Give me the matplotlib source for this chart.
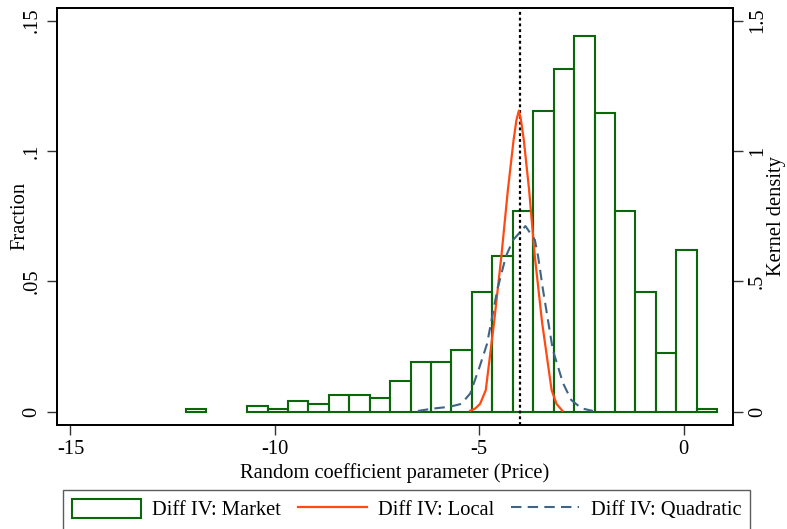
import matplotlib.pyplot as plt
import numpy as np
from matplotlib.patches import Patch
from matplotlib.lines import Line2D

plt.rcParams['font.family'] = ['Liberation Serif', 'DejaVu Serif']

# histogram (fraction), bins of width 0.5 starting at -12.18
bin_start = -12.18
bin_width = 0.5
fractions = [0.0012, 0.0, 0.0, 0.0022, 0.0010, 0.0041, 0.0031, 0.0064, 0.0064, 0.0054,
             0.0117, 0.0191, 0.0191, 0.0235, 0.0460, 0.0598, 0.0769, 0.1154, 0.1314, 0.1440,
             0.1144, 0.0769, 0.0460, 0.0224, 0.0620, 0.0011]

# kernel density, Diff IV: Local
local_x = [-5.22, -5.10, -4.98, -4.84, -4.64, -4.46, -4.30, -4.16, -4.09, -4.03,
           -3.98, -3.91, -3.78, -3.64, -3.46, -3.23, -3.11, -2.97]
local_y = [0.004, 0.012, 0.030, 0.083, 0.339, 0.595, 0.850, 1.042, 1.119, 1.155,
           1.119, 1.042, 0.850, 0.595, 0.339, 0.083, 0.030, 0.004]

# kernel density, Diff IV: Quadratic
quad_x = [-6.50, -6.13, -5.72, -5.44, -5.22, -4.99, -4.81, -4.56, -4.35, -4.17,
          -3.87, -3.64, -3.56, -3.44, -3.20, -2.95, -2.75, -2.50, -2.22]
quad_y = [0.003, 0.012, 0.019, 0.030, 0.070, 0.173, 0.260, 0.467, 0.595, 0.659,
          0.712, 0.659, 0.595, 0.467, 0.237, 0.109, 0.045, 0.013, 0.003]

true_value = -4.0

green = '#0a670a'
orange = '#ff4a12'
blue = '#3f6585'
fs = 14.8

fig = plt.figure(figsize=(7.87, 5.29), dpi=100)
ax = fig.add_axes([0.0724, 0.1966, 0.8586, 0.7886])
ax2 = ax.twinx()

edges = bin_start + bin_width * np.arange(len(fractions))
keep = [i for i, f in enumerate(fractions) if f > 0]
ax.bar(edges[keep], np.array(fractions)[keep], width=bin_width, align='edge',
       fill=False, edgecolor=green, linewidth=1.5, zorder=2)

ax2.plot(local_x, local_y, color=orange, linewidth=1.6, zorder=3)
ax2.plot(quad_x, quad_y, color=blue, linewidth=1.5, dashes=(5, 3), zorder=3)
ax.axvline(true_value, color='black', linewidth=1.6, dashes=(1.3, 1.3), zorder=4)

ax.set_xlim(-15.33, 1.2)
ax.set_ylim(-0.0051, 0.1549)
ax2.set_ylim(-0.051, 1.549)

ax.set_xticks([-15, -10, -5, 0])
ax.set_xticklabels(['-15', '-10', '-5', '0'])
ax.set_yticks([0, 0.05, 0.1, 0.15])
ax.set_yticklabels(['0', '.05', '.1', '.15'], rotation=90, va='center')
ax2.set_yticks([0, 0.5, 1, 1.5])
ax2.set_yticklabels(['0', '.5', '1', '1.5'], rotation=90, va='center')

for a in (ax, ax2):
    a.tick_params(labelsize=fs, length=7, width=1.0, color='#333333', pad=4)
    for s in a.spines.values():
        s.set_linewidth(1.3)

ax.set_xlabel('Random coefficient parameter (Price)', fontsize=fs, labelpad=3)
ax.set_ylabel('Fraction', fontsize=fs, va='center')
ax2.set_ylabel('Kernel density', fontsize=fs, rotation=90, va='center')
ax.yaxis.set_label_coords(-0.0545, 0.5)
ax2.yaxis.set_label_coords(1.065, 0.5)

handles = [Patch(facecolor='white', edgecolor=green, linewidth=1.5),
           Line2D([], [], color=orange, linewidth=1.6),
           Line2D([], [], color=blue, linewidth=1.5, dashes=(5, 3))]
labels = ['Diff IV: Market', 'Diff IV: Local', 'Diff IV: Quadratic']
leg = fig.legend(handles, labels, loc='upper left', bbox_to_anchor=(0.080, 0.074),
                 ncol=3, fontsize=fs, frameon=True, fancybox=False,
                 handlelength=3.35, handleheight=1.0, columnspacing=0.8,
                 handletextpad=0.55, borderpad=0.45, borderaxespad=0.0,
                 edgecolor='#333333')
leg.get_frame().set_linewidth(1.0)

fig.savefig('out.png', dpi=100)
